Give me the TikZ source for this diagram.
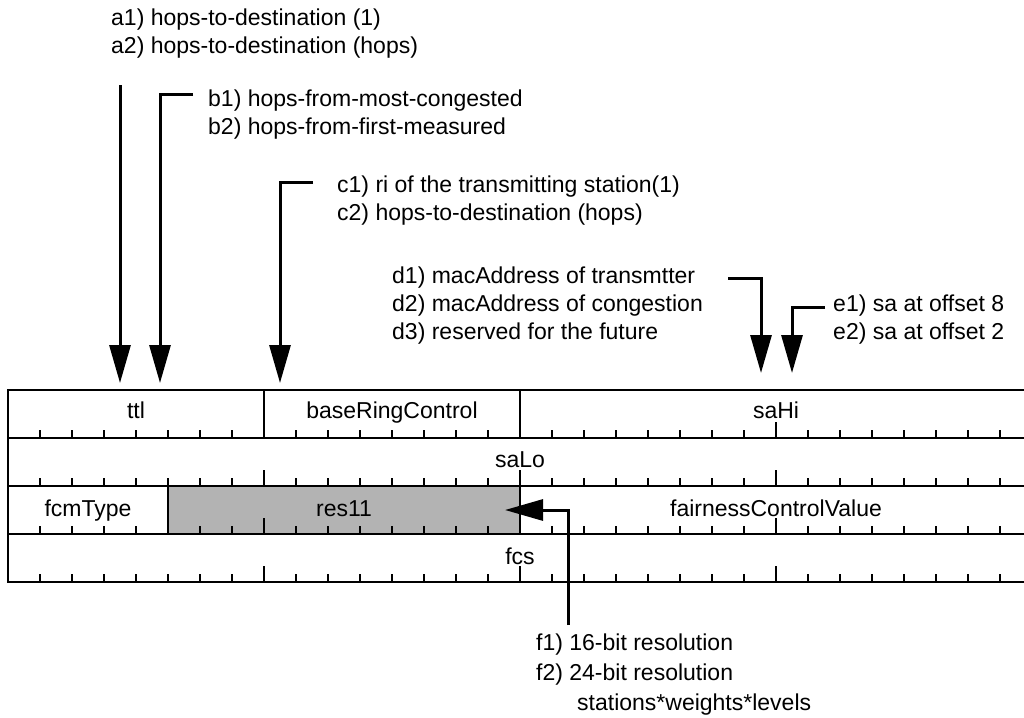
\documentclass[tikz,border=0pt]{standalone}
\usepackage{fontspec}
\setmainfont{Liberation Sans}
\usetikzlibrary{arrows.meta}
\definecolor{resgray}{RGB}{179,179,179}
\tikzset{
  lbl/.style={anchor=base west, inner sep=0pt, font=\fontsize{23}{28}\selectfont},
  fld/.style={anchor=base, inner sep=0pt, font=\fontsize{23}{28}\selectfont},
  tbl/.style={line width=2.6pt},
  tickline/.style={line width=2pt},
  ptr/.style={line width=3pt, -{Triangle[length=38pt,width=21pt]}},
}
\begin{document}
\begin{tikzpicture}[x=1pt,y=-1pt]
\clip (0,0) rectangle (1024,717);
\fill[white] (0,0) rectangle (1024,717);
% gray field
\fill[resgray] (168,486) rectangle (520,534);
% ticks
\foreach \r in {438,486,534,582}{
  \foreach \k in {1,...,31}{
    \pgfmathsetmacro{\xx}{8+32*\k}
    \ifnum\k=8 \draw[tickline] (\xx,\r) -- ++(0,-16);
    \else\ifnum\k=16 \draw[tickline] (\xx,\r) -- ++(0,-16);
    \else\ifnum\k=24 \draw[tickline] (\xx,\r) -- ++(0,-16);
    \else \draw[tickline] (\xx,\r) -- ++(0,-8);
    \fi\fi\fi
  }
}
% table frame
\draw[tbl] (1040,390) -- (8,390) -- (8,582) -- (1040,582);
\foreach \r in {438,486,534}{ \draw[tbl] (8,\r) -- (1040,\r); }
\draw[tbl] (264,390) -- (264,438);
\draw[tbl] (520,390) -- (520,438);
\draw[tbl] (168,486) -- (168,534);
\draw[tbl] (520,486) -- (520,534);
% field names
\node[fld] (ttl) at (136,418) {ttl};
\node[fld] (brc) at (392,418) {baseRingControl};
\node[fld] (sahi) at (776,418) {saHi};
\node[fld] (salo) at (520,467) {saLo};
\node[fld] (fcm) at (88,516) {fcmType};
\node[fld] (res) at (344,516) {res11};
\node[fld] (fcv) at (776,516) {fairnessControlValue};
\node[fld] (fcs) at (520,564) {fcs};
% pointer targets
\coordinate (ta) at (120,383);
\coordinate (tb) at (160,383);
\coordinate (tc) at (280,383);
\coordinate (td) at (761,373);
\coordinate (te) at (792,373);
\coordinate (tf) at (505,510);
% labels
\node[lbl] (a1) at (111,26) {a1) hops-to-destination (1)};
\node[lbl] (a2) at (111,54) {a2) hops-to-destination (hops)};
\node[lbl] (b1) at (208,106) {b1) hops-from-most-congested};
\node[lbl] (b2) at (208,134) {b2) hops-from-first-measured};
\node[lbl] (c1) at (337,192) {c1) ri of the transmitting station(1)};
\node[lbl] (c2) at (337,220) {c2) hops-to-destination (hops)};
\node[lbl] (d1) at (392,283) {d1) macAddress of transmtter};
\node[lbl] (d2) at (392,311) {d2) macAddress of congestion};
\node[lbl] (d3) at (392,339) {d3) reserved for the future};
\node[lbl] (e1) at (833,311) {e1) sa at offset 8};
\node[lbl] (e2) at (833,339) {e2) sa at offset 2};
\node[lbl] (f1) at (536,650) {f1) 16-bit resolution};
\node[lbl] (f2) at (536,680) {f2) 24-bit resolution};
\node[lbl] (f3) at (577,710) {stations*weights*levels};
% pointers
\coordinate (sa) at (120,85);
\draw[ptr] (sa) -- (ta);
\coordinate (sb) at (193,94);
\draw[ptr] (sb) -- (160,94) -- (tb);
\coordinate (sc) at (313,182);
\draw[ptr] (sc) -- (280,182) -- (tc);
\coordinate (sd) at (728,278);
\draw[ptr] (sd) -- (761,278) -- (td);
\coordinate (se) at (825,307);
\draw[ptr] (se) -- (792,307) -- (te);
\coordinate (sf) at (568,625);
\draw[ptr] (sf) -- (568,510) -- (tf);
\end{tikzpicture}
\end{document}
